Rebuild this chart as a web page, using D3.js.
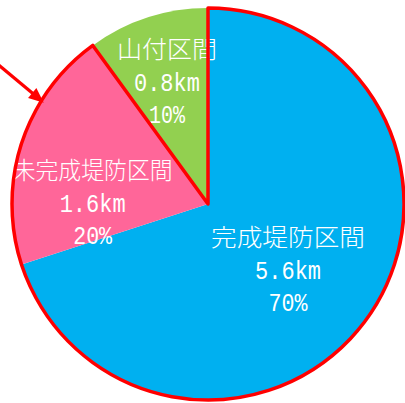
<!DOCTYPE html>
<html>
<head>
<meta charset="utf-8">
<script src="https://cdn.jsdelivr.net/npm/d3@7"></script>
<style>
  html, body { margin: 0; padding: 0; background: #fff; }
  svg { display: block; }
</style>
</head>
<body>
<svg id="chart" width="405" height="403"></svg>
<script>
// Levee sections along the river (km) and their share of the total
const categories = ["完成堤防区間", "未完成堤防区間", "山付区間"];
const lengthsKm = [5.6, 1.6, 0.8];
const sharePct = [70, 20, 10];
const sliceColors = ["#00B0F0", "#FF6699", "#92D050"];

// Label layout: nudge from the slice centroid, and width of each text line
const labelNudge = [[-13, 7.4], [-6, 43.5], [-5.5, -3.6]];
const lineWidths = [[154, 66, 39], [160, 66, 39], [100, 66, 36]];

const W = 405, H = 403;
const cx = 208, cy = 204, R = 196;

const svg = d3.select("#chart");
const g = svg.append("g").attr("transform", `translate(${cx},${cy})`);

const data = categories.map((c, i) => ({ name: c, km: lengthsKm[i], pct: sharePct[i], color: sliceColors[i], i }));

const pie = d3.pie().sort(null).value(d => d.km);
const arcs = pie(data);
const arc = d3.arc().innerRadius(0).outerRadius(R);
const labelArc = d3.arc().innerRadius(115).outerRadius(115);

// Slices
g.selectAll("path.slice")
  .data(arcs)
  .enter().append("path")
  .attr("class", "slice")
  .attr("d", arc)
  .attr("fill", d => d.data.color);

// Labels: name / length / share
const fmtKm = d3.format(".1f");
const lbl = g.selectAll("g.label")
  .data(arcs)
  .enter().append("g")
  .attr("class", "label")
  .attr("transform", d => {
    const [x, y] = labelArc.centroid(d);
    const n = labelNudge[d.data.i];
    return `translate(${x + n[0]},${y + n[1]})`;
  });

lbl.each(function(d) {
  const lines = [d.data.name, fmtKm(d.data.km) + "km", d.data.pct + "%"];
  const dy = [-33, 0, 32];
  const sel = d3.select(this);
  lines.forEach((t, k) => {
    const cjk = k === 0;
    sel.append("text")
      .attr("x", 0)
      .attr("y", dy[k])
      .attr("text-anchor", "middle")
      .attr("textLength", lineWidths[d.data.i][k])
      .attr("lengthAdjust", "spacingAndGlyphs")
      .attr("fill", "#fff")
      .style("font-family", cjk ? "'Noto Sans CJK JP', sans-serif" : "'Liberation Mono', 'DejaVu Sans Mono', monospace")
      .style("font-weight", cjk ? 300 : 400)
      .style("font-size", cjk ? "24px" : "25px")
      .text(t);
  });
});

// Red outline around the levee sections (completed + uncompleted)
const leveeEnd = arcs[1].endAngle;
const outline = d3.arc().innerRadius(0).outerRadius(R)
  .startAngle(arcs[0].startAngle).endAngle(leveeEnd);
g.append("path")
  .attr("d", outline())
  .attr("fill", "none")
  .attr("stroke", "#FF0000")
  .attr("stroke-width", 3.5)
  .attr("stroke-linejoin", "round");

// Arrow pointing at the uncompleted section
const tipAngle = arcs[1].startAngle + (arcs[1].endAngle - arcs[1].startAngle) * 0.69;
const tipR = R - 3;
const tip = [tipR * Math.sin(tipAngle), -tipR * Math.cos(tipAngle)];
const dirAng = Math.atan2(35, 42);
const ux = Math.cos(dirAng), uy = Math.sin(dirAng);
const headLen = 15, headHalf = 6.5;
const base = [tip[0] - headLen * ux, tip[1] - headLen * uy];
const tail = [tip[0] - 80 * ux, tip[1] - 80 * uy];
g.append("line")
  .attr("x1", tail[0]).attr("y1", tail[1])
  .attr("x2", base[0] + 2 * ux).attr("y2", base[1] + 2 * uy)
  .attr("stroke", "#FF0000")
  .attr("stroke-width", 3.2);
g.append("path")
  .attr("d", d3.line()([
    tip,
    [base[0] - headHalf * uy, base[1] + headHalf * ux],
    [base[0] + headHalf * uy, base[1] - headHalf * ux]
  ]) + "Z")
  .attr("fill", "#FF0000");
</script>
</body>
</html>
